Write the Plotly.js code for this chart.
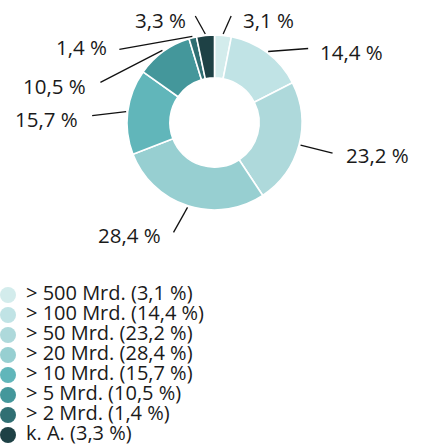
<!DOCTYPE html>
<html>
<head>
<meta charset="utf-8">
<script src="https://cdn.plot.ly/plotly-3.0.1.min.js"></script>
<style>html,body{margin:0;padding:0;background:#fff;}#chart{width:422px;height:448px;}</style>
</head>
<body>
<div id="chart"></div>
<script>
// ---- data ----
const categories = ["> 500 Mrd.", "> 100 Mrd.", "> 50 Mrd.", "> 20 Mrd.", "> 10 Mrd.", "> 5 Mrd.", "> 2 Mrd.", "k. A."];
const shares = [3.1, 14.4, 23.2, 28.4, 15.7, 10.5, 1.4, 3.3];

// ---- style / layout ----
const colors = ["#d3ecec", "#c0e3e5", "#aed9db", "#97cfd1", "#61b6ba", "#44979b", "#306f73", "#1e4145"];
const W = 422, H = 448;
const cx = 214.5, cy = 122.5, R = 87.5;
const FONT = "Open Sans, sans-serif";
const TEXT_COLOR = "#1a1a1a";
// leader line end offsets and label centre offsets, relative to the slice edge point (pixels)
const labelPlacement = [
  {lx: 8,   ly: -18, tx: 45,   ty: -14},
  {lx: 40,  ly: -3,  tx: 83,   ty: 1},
  {lx: 32,  ly: 8,   tx: 77,   ty: 10},
  {lx: -14, ly: 25,  tx: -58,  ty: 28},
  {lx: -34, ly: 4,   tx: -80,  ty: 7},
  {lx: -62, ly: 32,  tx: -108, ty: 36},
  {lx: -73, ly: 13,  tx: -111, ty: 11},
  {lx: -10, ly: -18, tx: -45,  ty: -14}
];

const fmt = v => v.toFixed(1).replace('.', ',');
const px = x => x / W;
const py = y => 1 - y / H;

const total = shares.reduce((a, b) => a + b, 0);
const shapes = [], annotations = [];
let cum = 0;
shares.forEach((v, i) => {
  const mid = (cum + v / 2) / total;
  cum += v;
  const th = 2 * Math.PI * mid;
  const sx = cx + (R + 1.5) * Math.sin(th);
  const sy = cy - (R + 1.5) * Math.cos(th);
  const p = labelPlacement[i];
  shapes.push({type: "line", xref: "paper", yref: "paper",
    x0: px(sx), y0: py(sy), x1: px(sx + p.lx), y1: py(sy + p.ly),
    line: {color: "#111", width: 1.3}});
  annotations.push({xref: "paper", yref: "paper", x: px(sx + p.tx), y: py(sy + p.ty),
    xanchor: "center", yanchor: "middle", showarrow: false,
    text: fmt(v) + " %", font: {family: FONT, size: 20.5, color: TEXT_COLOR}});
});

const pie = {
  type: "pie", values: shares, labels: categories, sort: false, direction: "clockwise",
  hole: 0.51, textinfo: "none", showlegend: false, hoverinfo: "label+value",
  marker: {colors: colors, line: {color: "#ffffff", width: 1.6}},
  domain: {x: [px(cx - R), px(cx + R)], y: [py(cy + R), py(cy - R)]}
};

// legend drawn as a category axis: one row per category
const legendTop = 285, rowH = 20;
const legendLabels = categories.map((c, i) => c + " (" + fmt(shares[i]) + " %)");
const legendMarkers = {
  type: "scatter", mode: "markers", x: categories.map(() => 8), y: categories,
  marker: {size: 16, color: colors, line: {width: 0}}, showlegend: false, hoverinfo: "skip",
  xaxis: "x", yaxis: "y", cliponaxis: false
};
const legendText = {
  type: "scatter", mode: "text", x: categories.map(() => 26), y: categories,
  text: legendLabels, textposition: "middle right",
  textfont: {family: FONT, size: 20, color: TEXT_COLOR}, showlegend: false, hoverinfo: "skip",
  xaxis: "x", yaxis: "y", cliponaxis: false
};

const layout = {
  width: W, height: H, margin: {l: 0, r: 0, t: 0, b: 0},
  paper_bgcolor: "#fff", plot_bgcolor: "rgba(0,0,0,0)",
  showlegend: false,
  xaxis: {domain: [0, 1], range: [0, W], visible: false, fixedrange: true},
  yaxis: {domain: [py(legendTop + rowH * categories.length), py(legendTop)], type: "category",
    categoryorder: "array", categoryarray: categories,
    range: [categories.length - 0.5, -0.5], visible: false, fixedrange: true},
  shapes: shapes, annotations: annotations,
  font: {family: FONT, color: TEXT_COLOR}
};

Plotly.newPlot("chart", [pie, legendMarkers, legendText], layout, {displayModeBar: false, staticPlot: true});
</script>
</body>
</html>
